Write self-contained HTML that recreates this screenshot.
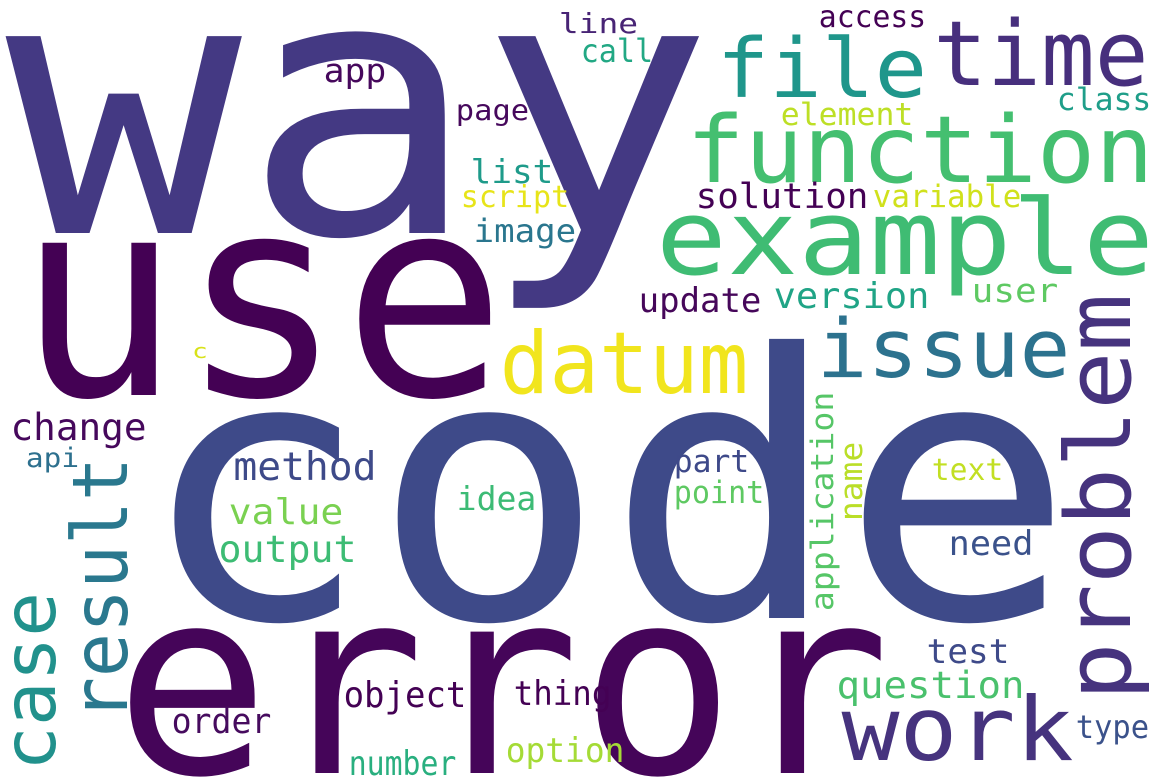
<!DOCTYPE html>
<html><head><meta charset="utf-8"><style>
html,body{margin:0;padding:0;background:#fff;overflow:hidden;width:1167px;height:782px;}
svg{display:block;}
text{font-family:"DejaVu Sans Mono","Liberation Mono",monospace;}
</style></head><body>
<svg id="cloud" width="1167" height="782" viewBox="0 0 1167 782" xmlns="http://www.w3.org/2000/svg">
<rect width="1167" height="782" fill="#fff"/>
</svg>
<script>
// word, left, right, baseline, fontSize, color, rotated
const words = ["way","use","code","error","example","function","file","time","issue","datum","problem","result","case","change","api","method","value","output","order","object","number","app","c","line","call","page","list","script","image","update","solution","variable","access","class","element","version","user","application","name","text","need","test","question","work","type","part","point","idea","thing","option"];
const lefts = [20,28,152,125,660,690,720,937,820,503,297,460,595,12,27,235,230,220,173,345,350,325,193,560,582,457,472,462,475,640,697,874,820,1058,782,775,973,393,443,933,950,928,838,845,1077,675,675,458,515,507];
const rights = [700,495,1060,880,1150,1150,924,1145,1067,745,697,718,768,145,78,375,342,355,270,465,455,385,207,637,652,528,552,568,575,760,867,1020,925,1150,912,928,1057,610,520,1002,1032,1008,1023,1070,1148,748,763,535,610,623];
const baselines = [233,395,618,773,274,182,97,85,377,393,1130,127,55,440,467,480,524,562,733,707,775,82,358,33,62,120,183,207,242,312,208,207,27,110,125,308,302,833,862,480,555,663,698,760,738,472,503,510,705,762];
const sizes = [387,300,395,278,112,100,88,97,87,92,97,82,79,40,29,42,38,40,37,38,36,35,22,30,34,31,35,32,34,36,37,33,32,33,33,38,35,33,33,32,36,36,40,95,34,33,33,35,36,36];
const colors = ["#443983","#440154","#3e4a89","#450559","#3fbc73","#44bf70","#1f968b","#472f7d","#2c728e","#f1e51d","#46337e","#2a788e","#21918c","#46085c","#2d708e","#3e4a89","#7ad151","#3dbc74","#460b5e","#440154","#29af7f","#46085c","#d8e219","#482475","#22a884","#46085c","#1e9b8a","#e7e419","#2a768e","#46075a","#440154","#d0e11c","#440154","#1f9e89","#bddf26","#20a486","#5ec962","#56c667","#bade28","#c2df23","#3b528b","#3e4a89","#4ac16d","#46337e","#3b528b","#3e4989","#5ec962","#3cbb75","#440154","#a5db36"];
const rotated = ["problem","result","case","application","name"];

const svg = document.getElementById('cloud');
const NS = 'http://www.w3.org/2000/svg';
const SCALE = 0.93;
for (let i = 0; i < words.length; i++) {
  const fs = sizes[i] * SCALE;
  const t = document.createElementNS(NS, 'text');
  
  
  t.setAttribute('font-size', fs.toFixed(1));
  t.setAttribute('fill', colors[i]);
  const len = (rights[i] - lefts[i]) + 0.08 * fs;
  t.setAttribute('textLength', len.toFixed(1));
  t.setAttribute('lengthAdjust', 'spacingAndGlyphs');
  if (rotated.includes(words[i])) {
    t.setAttribute('transform', 'translate(' + baselines[i] + ',' + rights[i] + ') rotate(-90)');
    t.setAttribute('x', (-0.04 * fs).toFixed(1));
    t.setAttribute('y', 0);
  } else {
    t.setAttribute('x', (lefts[i] - 0.04 * fs).toFixed(1));
    t.setAttribute('y', baselines[i]);
  }
  t.textContent = words[i];
  svg.appendChild(t);
}
</script>
</body></html>
